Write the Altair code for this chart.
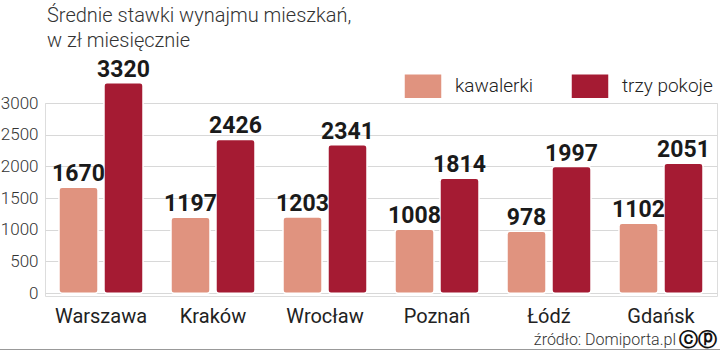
import altair as alt
import pandas as pd

cities = ["Warszawa", "Kraków", "Wrocław", "Poznań", "Łódź", "Gdańsk"]
kawalerki = [1670, 1197, 1203, 1008, 978, 1102]
trzy_pokoje = [3320, 2426, 2341, 1814, 1997, 2051]
series = ["kawalerki", "trzy pokoje"]
colors = ["#e0937f", "#a51b33"]
y_ticks = [0, 500, 1000, 1500, 2000, 2500, 3000]
title_lines = ["Średnie stawki wynajmu mieszkań,", "w zł miesięcznie"]

rows = []
for c, k, t in zip(cities, kawalerki, trzy_pokoje):
    rows.append({"miasto": c, "typ": series[0], "wartosc": k})
    rows.append({"miasto": c, "typ": series[1], "wartosc": t})
df = pd.DataFrame(rows)

W, H = 672, 193
ydom = [-45, 3000]

x = alt.X("miasto:N", sort=cities, title=None,
          scale=alt.Scale(paddingInner=0.25, paddingOuter=0.125),
          axis=alt.Axis(labelAngle=0, labelFontSize=20, labelColor="#222222",
                        labelFont="Roboto", domain=False, ticks=False, labelPadding=10))
xo = alt.XOffset("typ:N", sort=series, scale=alt.Scale(paddingInner=0.133, paddingOuter=0))
y = alt.Y("wartosc:Q", title=None,
          scale=alt.Scale(domain=ydom, nice=False, zero=False),
          axis=alt.Axis(values=y_ticks, format="d", labelOverlap=False,
                        labelFontSize=17, labelColor="#333333", labelFontWeight=300,
                        labelFont="Roboto", domain=False, ticks=False, labelPadding=7,
                        grid=True, gridColor="#d8d8d8", gridWidth=1))
color = alt.Color("typ:N", sort=series, scale=alt.Scale(domain=series, range=colors),
                  legend=alt.Legend(title=None, orient="none", legendX=358, legendY=-37,
                                    direction="horizontal",
                                    symbolType="M-1,-0.66H1V0.66H-1Z", symbolSize=1444,
                                    symbolStrokeColor="#ffffff", symbolStrokeWidth=1.5,
                                    symbolOpacity=1,
                                    labelFontSize=19, labelFont="Roboto", labelColor="#222222",
                                    labelFontWeight=300,
                                    labelOffset=12, columnPadding=34, padding=0))

base = alt.Chart(df)

bars = base.mark_bar(cornerRadius=3, stroke="#ffffff", strokeWidth=1.5).encode(
    x=x, xOffset=xo, y=y, y2=alt.datum(0), color=color)

labels = base.mark_text(font="Roboto", fontWeight="bold", fontSize=23, color="#1a1a1a",
                        baseline="alphabetic", dy=-6, clip=False).encode(
    x=x, xOffset=xo, y=y, text=alt.Text("wartosc:Q", format="d"))

title1 = alt.Chart(pd.DataFrame({"t": [title_lines[0]]})).mark_text(
    font="Roboto", fontSize=20, fontWeight=300, color="#333333", align="left",
    baseline="alphabetic").encode(x=alt.value(2), y=alt.value(-81), text="t:N")
title2 = alt.Chart(pd.DataFrame({"t": [title_lines[1]]})).mark_text(
    font="Roboto", fontSize=20, fontWeight=300, color="#333333", align="left",
    baseline="alphabetic").encode(x=alt.value(2), y=alt.value(-56), text="t:N")

source = alt.Chart(pd.DataFrame({"t": ["źródło: Domiporta.pl"]})).mark_text(
    font="Roboto", fontSize=16, fontWeight=300, color="#333333", align="right",
    baseline="alphabetic").encode(x=alt.value(631), y=alt.value(242), text="t:N")

cc = alt.Chart(pd.DataFrame({"t": ["ⓒⓟ"]})).mark_text(
    font="DejaVu Sans", fontWeight="bold", fontSize=19, color="#111111", align="right",
    baseline="alphabetic").encode(x=alt.value(672), y=alt.value(243), text="t:N")

bottom_line = alt.Chart(pd.DataFrame({"a": [0]})).mark_rule(color="#999999", strokeWidth=1).encode(
    x=alt.value(-45), x2=alt.value(675), y=alt.value(246.5))

chart = alt.layer(bars, labels, title1, title2, source, cc, bottom_line).properties(
    width=W, height=H,
    autosize=alt.AutoSizeParams(type="none"),
    padding={"left": 45, "top": 103, "right": 3, "bottom": 55},
).configure_view(fill="#efefef", stroke=None, cornerRadius=8).configure(background="#ffffff")

chart.save("out.html", embed_options={"renderer": "svg", "actions": False})
